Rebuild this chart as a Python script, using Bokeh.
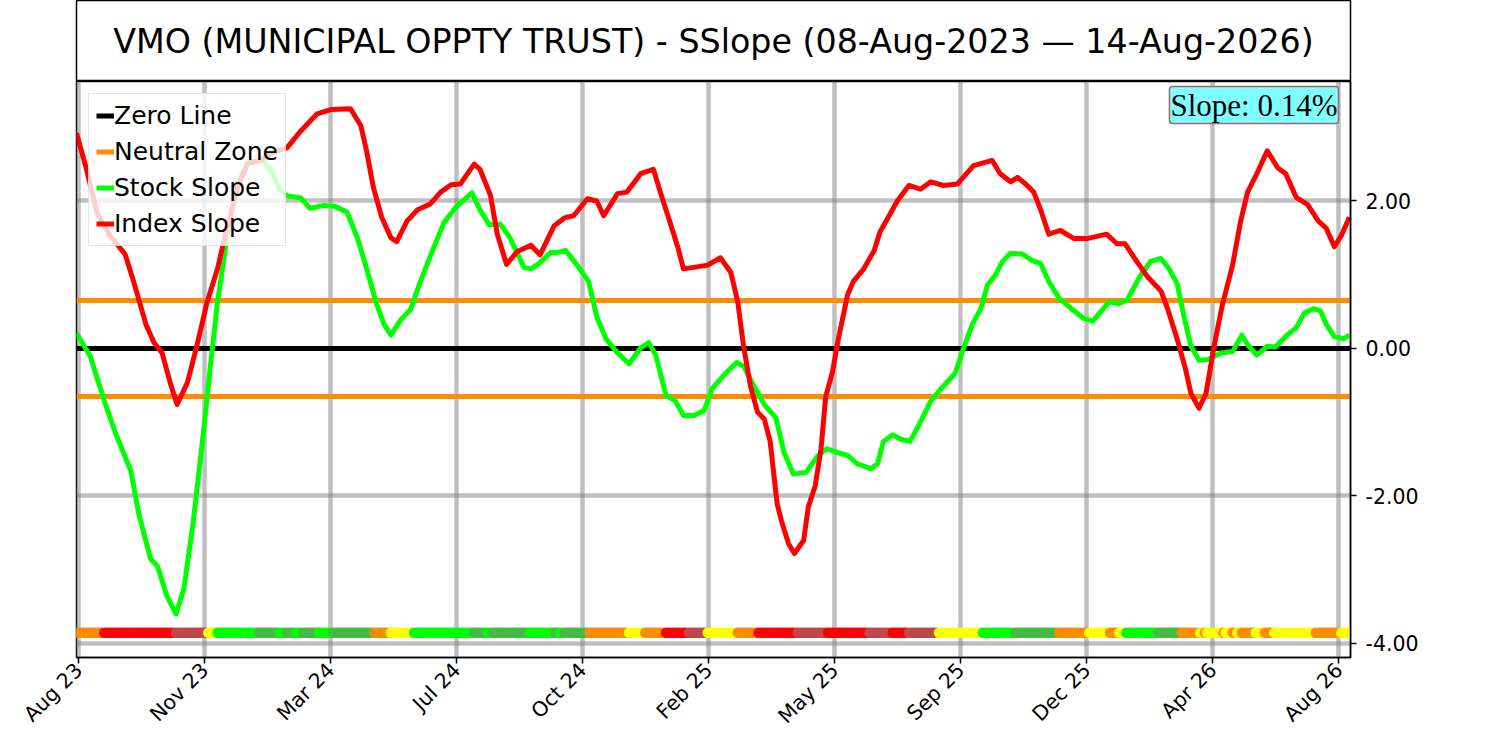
import math
from bokeh.plotting import figure
from bokeh.models import (Range1d, FixedTicker, PrintfTickFormatter, Legend,
                          LegendItem, Label, ColumnDataSource)
from bokeh.layouts import column
from bokeh.embed import file_html
from bokeh.resources import INLINE

# ---------------- data ----------------
TITLE = "VMO (MUNICIPAL OPPTY TRUST) - SSlope (08-Aug-2023 \u2014 14-Aug-2026)"
SLOPE_TEXT = "Slope: 0.14%"

X_MIN, X_MAX = 0, 1102          # days since 08-Aug-2023
Y_MIN, Y_MAX = -4.19, 3.62
NEUTRAL = 0.65
DOT_LEVEL = -3.855

tick_days = [2, 111, 220, 329, 438, 547, 656, 765, 874, 983, 1092]
tick_labels = ["Aug 23", "Nov 23", "Mar 24", "Jul 24", "Oct 24", "Feb 25",
               "May 25", "Sep 25", "Dec 25", "Apr 26", "Aug 26"]
y_ticks = [-4, -2, 0, 2]

index_days = [0, 8, 18, 29, 42, 49, 60, 67, 74, 81,
              87, 96, 104, 113, 122, 130, 139, 148, 159, 170,
              182, 194, 208, 220, 237, 246, 251, 257, 264, 272,
              277, 286, 295, 306, 315, 324, 332, 344, 349, 358,
              364, 372, 381, 393, 401, 413, 422, 430, 442, 450,
              456, 468, 476, 488, 499, 505, 514, 520, 525, 534,
              546, 557, 566, 572, 577, 583, 589, 595, 600, 606,
              610, 616, 621, 629, 633, 639, 644, 648, 654, 659,
              667, 672, 681, 690, 695, 704, 710, 720, 730, 739,
              750, 762, 767, 776, 792, 799, 808, 814, 821, 828,
              834, 841, 851, 863, 874, 891, 900, 907, 915, 926,
              938, 944, 952, 959, 964, 971, 977, 984, 991, 1000,
              1007, 1013, 1021, 1030, 1039, 1046, 1055, 1065, 1074, 1081,
              1088, 1094, 1101]
index_slope = [2.92, 2.47, 1.83, 1.53, 1.28, 0.93, 0.33, 0.08, -0.06, -0.46,
               -0.76, -0.46, 0.03, 0.63, 1.08, 1.63, 2.17, 2.51, 2.55, 2.66,
               2.72, 2.95, 3.18, 3.24, 3.25, 3.02, 2.67, 2.17, 1.78, 1.50,
               1.45, 1.73, 1.88, 1.96, 2.12, 2.22, 2.23, 2.50, 2.43, 2.08,
               1.55, 1.14, 1.31, 1.40, 1.27, 1.66, 1.77, 1.80, 2.03, 2.00,
               1.80, 2.10, 2.12, 2.37, 2.43, 2.12, 1.68, 1.38, 1.08, 1.10,
               1.13, 1.23, 1.03, 0.63, 0.03, -0.51, -0.86, -0.96, -1.26, -2.10,
               -2.35, -2.65, -2.78, -2.60, -2.15, -1.86, -1.36, -0.66, -0.31, 0.13,
               0.73, 0.91, 1.08, 1.33, 1.58, 1.83, 2.00, 2.21, 2.16, 2.26,
               2.21, 2.23, 2.32, 2.48, 2.55, 2.37, 2.26, 2.32, 2.23, 2.12,
               1.88, 1.55, 1.60, 1.49, 1.49, 1.55, 1.42, 1.42, 1.23, 0.98,
               0.78, 0.53, 0.13, -0.26, -0.61, -0.81, -0.61, 0.03, 0.58, 1.13,
               1.73, 2.12, 2.37, 2.68, 2.45, 2.37, 2.05, 1.95, 1.73, 1.63,
               1.38, 1.53, 1.78]

stock_days = [0, 12, 24, 34, 47, 54, 64, 70, 78, 86,
              93, 101, 110, 116, 122, 130, 139, 148, 161, 168,
              176, 182, 194, 202, 214, 223, 234, 243, 251, 259,
              266, 272, 280, 289, 298, 308, 318, 329, 342, 349,
              357, 367, 375, 387, 393, 400, 410, 416, 423, 433,
              443, 450, 458, 468, 478, 488, 495, 501, 510, 518,
              525, 534, 543, 550, 560, 571, 577, 586, 595, 605,
              612, 620, 631, 641, 649, 658, 667, 675, 687, 693,
              698, 706, 713, 721, 729, 739, 747, 760, 767, 775,
              782, 788, 795, 801, 808, 818, 827, 834, 841, 850,
              863, 871, 879, 893, 902, 909, 920, 929, 938, 945,
              952, 958, 964, 971, 979, 990, 1000, 1008, 1014, 1021,
              1030, 1037, 1047, 1055, 1062, 1070, 1076, 1081, 1088, 1096,
              1101]
stock_slope = [0.21, -0.11, -0.71, -1.16, -1.66, -2.25, -2.85, -2.95, -3.35, -3.60,
               -3.25, -2.35, -1.11, -0.21, 0.63, 1.48, 2.22, 2.52, 2.55, 2.42,
               2.15, 2.07, 2.04, 1.90, 1.94, 1.93, 1.85, 1.50, 1.08, 0.63,
               0.33, 0.18, 0.38, 0.53, 0.93, 1.33, 1.71, 1.93, 2.11, 1.88,
               1.68, 1.68, 1.50, 1.10, 1.08, 1.15, 1.30, 1.30, 1.33, 1.13,
               0.91, 0.43, 0.13, -0.06, -0.21, 0.01, 0.08, -0.09, -0.64, -0.71,
               -0.91, -0.91, -0.84, -0.54, -0.36, -0.19, -0.24, -0.51, -0.76, -0.94,
               -1.41, -1.70, -1.68, -1.46, -1.36, -1.41, -1.45, -1.56, -1.63, -1.56,
               -1.26, -1.17, -1.23, -1.26, -1.03, -0.71, -0.56, -0.34, -0.01, 0.33,
               0.53, 0.86, 1.00, 1.18, 1.29, 1.28, 1.19, 1.15, 0.91, 0.68,
               0.51, 0.41, 0.37, 0.63, 0.61, 0.66, 0.98, 1.18, 1.22, 1.08,
               0.88, 0.43, 0.03, -0.16, -0.15, -0.06, -0.04, 0.18, 0.03, -0.09,
               0.03, 0.02, 0.18, 0.28, 0.48, 0.54, 0.51, 0.33, 0.16, 0.13,
               0.18]

# state row (run-length): last day of each run and its state code
state_end_day = [22, 84, 112, 121, 156, 174, 181, 189, 194, 208,
                 221, 256, 270, 291, 342, 355, 359, 390, 412, 417,
                 421, 442, 476, 491, 509, 528, 545, 571, 589, 622,
                 649, 684, 704, 719, 745, 782, 810, 849, 875, 892,
                 900, 907, 935, 955, 971, 975, 977, 990, 993, 998,
                 1002, 1007, 1018, 1027, 1035, 1070, 1093, 1103]
state_code = ["O", "R", "B", "Y", "L", "G", "L", "G", "L", "G",
              "L", "G", "O", "Y", "L", "G", "L", "G", "L", "G",
              "L", "G", "O", "Y", "O", "R", "B", "Y", "O", "R",
              "B", "R", "B", "R", "B", "Y", "L", "G", "O", "Y",
              "O", "Y", "L", "G", "O", "Y", "O", "Y", "O", "Y",
              "O", "Y", "O", "Y", "O", "Y", "O", "Y"]
state_colors = {"O": "#FF8C00", "R": "#FF0000", "B": "#C04848",
                "Y": "#FFFF00", "L": "#00FF00", "G": "#44BB44"}
DOT_STEP = 2

assert len(index_days) == len(index_slope)
assert len(stock_days) == len(stock_slope)
assert len(state_end_day) == len(state_code)

# expand state runs into the dot row
dot_x, dot_c = [], []
seg = 0
for d in range(X_MIN, X_MAX + 1, DOT_STEP):
    while seg < len(state_end_day) - 1 and d > state_end_day[seg]:
        seg += 1
    dot_x.append(d)
    dot_c.append(state_colors[state_code[seg]])
dot_src = ColumnDataSource(dict(x=dot_x, y=[DOT_LEVEL] * len(dot_x), c=dot_c))

# ---------------- layout ----------------
W = 1490
LEFT = 76
RIGHT = W - 1350
TITLE_H = 81
MAIN_H = 658

# title box
t = figure(width=W, height=TITLE_H, x_range=Range1d(0, 1), y_range=Range1d(0, 1),
           toolbar_location=None, output_backend="svg",
           x_axis_location=None, y_axis_location=None,
           min_border_left=LEFT, min_border_right=RIGHT,
           min_border_top=0, min_border_bottom=0)
t.grid.visible = False
t.outline_line_color = "black"
t.outline_line_width = 1.5
t.outline_line_alpha = 1.0
t.add_layout(Label(x=0.5, y=0.5, text=TITLE, text_align="center",
                   text_baseline="middle", text_font="DejaVu Sans",
                   text_font_size="33.3px", text_color="black"))

# main chart
p = figure(width=W, height=MAIN_H, x_range=Range1d(X_MIN, X_MAX),
           y_range=Range1d(Y_MIN, Y_MAX), y_axis_location="right",
           toolbar_location=None, output_backend="svg",
           min_border_left=LEFT, min_border_right=RIGHT,
           min_border_top=0, min_border_bottom=MAIN_H - 576)
p.outline_line_color = "black"
p.outline_line_width = 1.5
p.outline_line_alpha = 1.0

p.xaxis.ticker = FixedTicker(ticks=tick_days)
p.xaxis.major_label_overrides = {d: l for d, l in zip(tick_days, tick_labels)}
p.xaxis.major_label_orientation = math.pi / 4
p.yaxis.ticker = FixedTicker(ticks=y_ticks)
p.yaxis.formatter = PrintfTickFormatter(format="%.2f")
for ax in (p.xaxis, p.yaxis):
    ax.major_label_text_font = "DejaVu Sans"
    ax.major_label_text_font_size = "20.5px"
    ax.major_label_text_color = "black"
    ax.major_tick_out = 6
    ax.major_tick_in = 0
    ax.major_tick_line_width = 1.5
    ax.minor_tick_line_color = None
    ax.axis_line_width = 1.5
p.xaxis.major_label_standoff = 3
p.yaxis.major_label_standoff = 9

p.grid.grid_line_color = "gray"
p.grid.grid_line_alpha = 0.5
p.grid.grid_line_width = 4.5

LW = 5
r_neu_top = p.line([X_MIN, X_MAX], [NEUTRAL, NEUTRAL], line_color="#FF8C00", line_width=LW)
r_neu_bot = p.line([X_MIN, X_MAX], [-NEUTRAL, -NEUTRAL], line_color="#FF8C00", line_width=LW)
r_zero = p.line([X_MIN, X_MAX], [0, 0], line_color="black", line_width=LW)
p.scatter(x="x", y="y", source=dot_src, size=10.5, fill_color="c", line_color=None)
r_stock = p.line(stock_days, stock_slope, line_color="#00FF00", line_width=LW,
                 line_join="round")
r_index = p.line(index_days, index_slope, line_color="#FF0000", line_width=LW,
                 line_join="round")

legend = Legend(items=[LegendItem(label="Zero Line", renderers=[r_zero]),
                       LegendItem(label="Neutral Zone", renderers=[r_neu_top]),
                       LegendItem(label="Stock Slope", renderers=[r_stock]),
                       LegendItem(label="Index Slope", renderers=[r_index])],
                location="top_left")
legend.label_text_font = "DejaVu Sans"
legend.label_text_font_size = "25px"
legend.label_text_color = "black"
legend.label_height = 25
legend.glyph_height = 25
legend.glyph_width = 18
legend.label_standoff = 0
legend.spacing = 7
legend.padding = 7
legend.margin = 12
legend.border_line_color = "#CCCCCC"
legend.border_line_width = 1.5
legend.background_fill_alpha = 0.8
p.add_layout(legend)

p.add_layout(Label(x=X_MAX, y=Y_MAX, x_offset=-12, y_offset=-5, text=SLOPE_TEXT,
                   text_align="right", text_baseline="top",
                   text_font="Liberation Serif", text_font_size="31px",
                   text_color="black",
                   background_fill_color="#80FFFF", border_line_color="#A06868",
                   border_line_width=1.5, padding=1, border_radius=3))

layout = column(t, p, spacing=0)
open("out.html", "w").write(file_html(layout, INLINE))
